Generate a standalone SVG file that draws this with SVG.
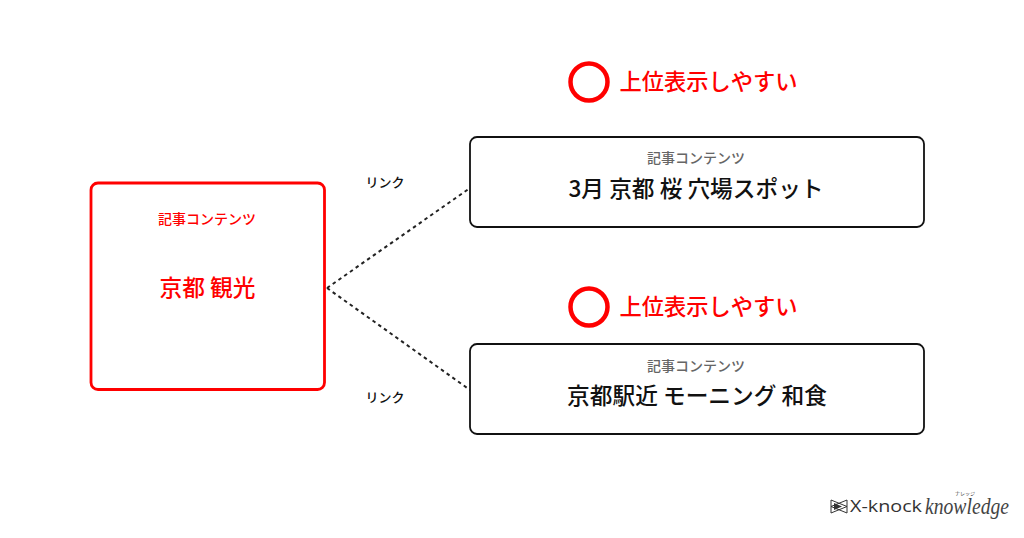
<svg xmlns="http://www.w3.org/2000/svg" width="1024" height="538" viewBox="0 0 1024 538">
<style>
text{font-family:"Noto Sans CJK JP","Noto Sans",sans-serif;text-anchor:middle}
.box{fill:#fff;stroke:#111;stroke-width:1.800}
.red{fill:#fff;stroke:#f00;stroke-width:2.800}
.cap{font-size:14px;font-weight:500;fill:#666}
.capred{font-size:14px;font-weight:500;fill:#f00}
.title{font-size:22.700px;font-weight:500;fill:#111}
.titlered{font-size:22.700px;font-weight:500;fill:#f00}
.rt{font-size:22.250px;font-weight:500;fill:#f00}
.link{font-size:13px;font-weight:500;fill:#111}
.ring{fill:none;stroke:#f00;stroke-width:4.500}
.dash{fill:none;stroke:#222;stroke-width:2;stroke-dasharray:3.500 3.500}
.lg1{text-anchor:start;font-family:"Open Sans",sans-serif;font-size:16px;fill:#333}
.lg2{text-anchor:start;font-family:"Liberation Serif",serif;font-style:italic;font-size:23px;fill:#444}
.lg3{font-size:5px;fill:#444}
</style>
<rect width="1024" height="538" fill="#fff"/>
<g id="connectors">
<line class="dash" x1="327" y1="288" x2="470" y2="188"/>
<line class="dash" x1="327" y1="288" x2="470" y2="390"/>
</g>
<g id="source">
<rect class="red" x="91" y="183" width="233.500" height="206.500" rx="7"/>
<text class="capred" x="207" y="224">記事コンテンツ</text>
<text class="titlered" x="207.500" y="296">京都 観光</text>
</g>
<g id="target-1">
<rect class="box" x="470" y="137" width="454" height="90" rx="7"/>
<text class="cap" x="696" y="163">記事コンテンツ</text>
<text class="title" x="696" y="197">3月 京都 桜 穴場スポット</text>
</g>
<g id="target-2">
<rect class="box" x="470" y="344" width="454" height="90" rx="7"/>
<text class="cap" x="696" y="371">記事コンテンツ</text>
<text class="title" x="697" y="404">京都駅近 モーニング 和食</text>
</g>
<g id="badge-1">
<circle class="ring" cx="589" cy="82" r="18.500"/>
<text class="rt" x="708.500" y="90">上位表示しやすい</text>
</g>
<g id="badge-2">
<circle class="ring" cx="589" cy="307" r="18.500"/>
<text class="rt" x="708.500" y="315">上位表示しやすい</text>
</g>
<g id="link-1"><text class="link" x="385" y="186.500">リンク</text></g>
<g id="link-2"><text class="link" x="385" y="401.500">リンク</text></g>
<g id="logo">
<path d="M831 500L831 513L847 506.500ZM847 500L847 513L831 506.500Z" fill="none" stroke="#333" stroke-width="1"/>
<path d="M834 503L842 506.500L834 510Z" fill="#333"/>
<text class="lg1" x="850" y="512" textLength="72" lengthAdjust="spacingAndGlyphs">X-knock</text>
<text class="lg2" x="925" y="514" textLength="84" lengthAdjust="spacingAndGlyphs">knowledge</text>
<text class="lg3" x="965" y="495">ナレッジ</text>
</g>
</svg>
